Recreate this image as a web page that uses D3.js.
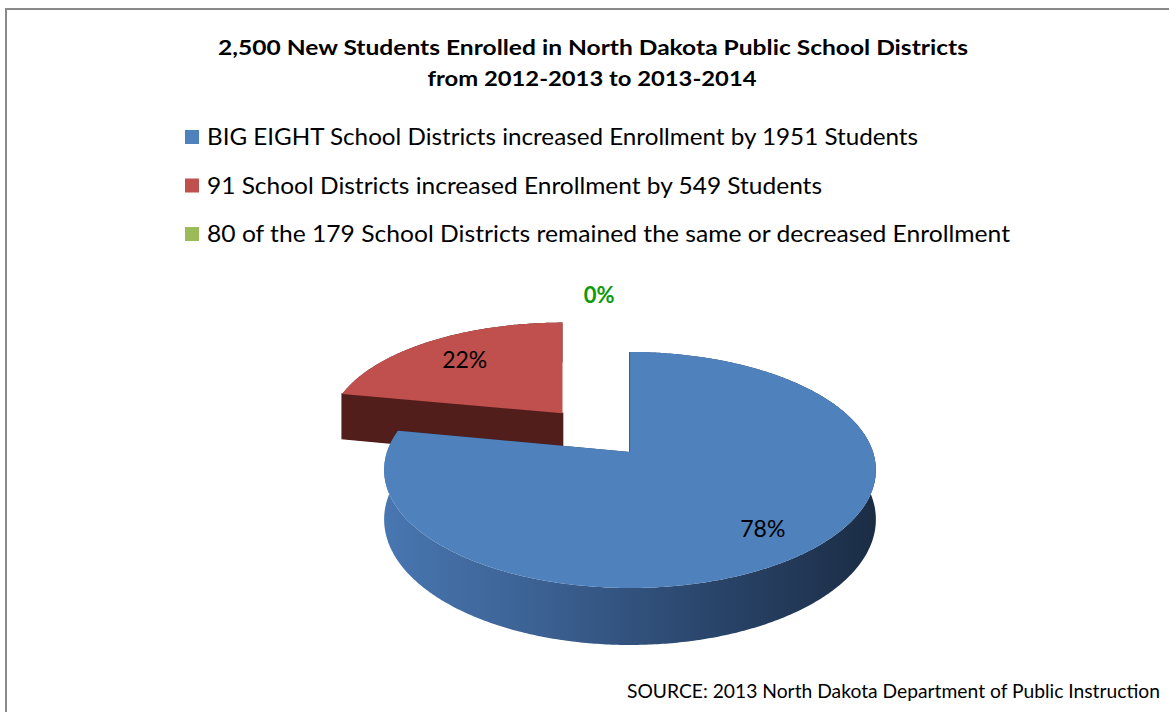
<!DOCTYPE html>
<html>
<head>
<meta charset="utf-8">
<script src="https://cdn.jsdelivr.net/npm/d3@7"></script>
<style>
  html, body { margin: 0; padding: 0; background: #ffffff; }
  svg { display: block; }
  text { font-family: Lato, "Open Sans", "Liberation Sans", sans-serif; fill: #000; }
</style>
</head>
<body>
<svg id="chart" width="1169" height="712"></svg>
<script>
// ---- chart data ----
const titleLines = [
  "2,500 New Students Enrolled in North Dakota Public School Districts",
  "from 2012-2013 to 2013-2014"
];
const categories = [
  "BIG EIGHT School Districts increased Enrollment by 1951 Students",
  "91 School Districts increased Enrollment by 549 Students",
  "80 of the 179 School Districts remained the same or decreased Enrollment"
];
const values = [1951, 549, 0];
const explodeBy = [0, 0.46, 0];
const sourceNote = "SOURCE: 2013 North Dakota Department of Public Instruction";

// ---- styling ----
const topColors  = ["#4f81bd", "#c0504d", "#9bbb59"];
const sideColors = ["url(#blueSide)", "#521e1c", "#5d7035"];
const cutColors  = ["#1f3450", "#521e1c", "#5d7035"];
const zeroLabelColor = "#0a9a0a";

const W = 1169, H = 712;
const svg = d3.select("#chart");

// frame (top and left rules)
svg.append("line").attr("x1", 5).attr("x2", W).attr("y1", 9).attr("y2", 9)
  .attr("stroke", "#8a8a8a").attr("stroke-width", 2);
svg.append("line").attr("x1", 6).attr("x2", 6).attr("y1", 8).attr("y2", H)
  .attr("stroke", "#8a8a8a").attr("stroke-width", 2);

// title
svg.append("text").attr("x", 593).attr("y", 55).attr("text-anchor", "middle")
  .attr("font-weight", "bold").attr("font-size", 20)
  .attr("textLength", 750).attr("lengthAdjust", "spacingAndGlyphs")
  .text(titleLines[0]);
svg.append("text").attr("x", 592).attr("y", 86).attr("text-anchor", "middle")
  .attr("font-weight", "bold").attr("font-size", 20)
  .attr("textLength", 329).attr("lengthAdjust", "spacingAndGlyphs")
  .text(titleLines[1]);

// legend
const legendWidths = [711, 615, 803];
const legendY = d3.scalePoint().domain(d3.range(categories.length)).range([145, 242]);
const legend = svg.append("g");
categories.forEach((c, i) => {
  legend.append("rect").attr("x", 185).attr("y", legendY(i) - 15)
    .attr("width", 14).attr("height", 14).attr("fill", topColors[i]);
  legend.append("text").attr("x", 207).attr("y", legendY(i))
    .attr("font-size", 23)
    .attr("textLength", legendWidths[i]).attr("lengthAdjust", "spacingAndGlyphs")
    .text(c);
});

// source note
svg.append("text").attr("x", 627).attr("y", 698).attr("font-size", 19)
  .attr("textLength", 533).attr("lengthAdjust", "spacingAndGlyphs")
  .text(sourceNote);

// ---- 3D pie ----
const geo = { cx: 630, cy: 452, b: 243, a: 115.25, u: 0.1525, h: 48.3 };

const defs = svg.append("defs");
const grad = defs.append("linearGradient").attr("id", "blueSide")
  .attr("gradientUnits", "userSpaceOnUse")
  .attr("x1", geo.cx - geo.b).attr("x2", geo.cx + geo.b).attr("y1", 0).attr("y2", 0);
[[0, "#4876b0"], [0.3, "#3c6294"], [0.6, "#2d4a72"], [1, "#1b2d45"]].forEach(([o, c]) =>
  grad.append("stop").attr("offset", o).attr("stop-color", c));

const total = d3.sum(values);
const pct = d3.format(".0%");
const arcs = d3.pie().sort(null).startAngle(0).endAngle(2 * Math.PI)(values);

arcs.forEach((d, i) => {
  const mid = (d.startAngle + d.endAngle) / 2;
  d.ex = explodeBy[i] * Math.sin(mid);
  d.ey = explodeBy[i] * Math.cos(mid);
  d.i = i;
});

// local (lx, ly) in unit-radius pie coords relative to the slice apex, z: 0 top, 1 bottom
function project(d, lx, ly, z) {
  const gy = d.ey + ly;
  const w = 1 + geo.u * gy;
  const ax = geo.cx + geo.b * d.ex / (1 + geo.u * d.ey);
  return [ax + geo.b * lx / w, geo.cy - geo.a * gy / w + geo.h * z / w];
}
function rim(d, a0, a1, z) {
  const n = Math.max(2, Math.ceil(Math.abs(a1 - a0) / 0.01));
  return d3.range(n + 1).map(k => {
    const t = a0 + (a1 - a0) * k / n;
    return project(d, Math.sin(t), Math.cos(t), z);
  });
}
const poly = d3.line().curve(d3.curveLinearClosed);

const pieG = svg.append("g");
const drawn = arcs.filter(d => d.value > 0).sort((p, q) => q.ey - p.ey);

drawn.forEach(d => {
  const g = pieG.append("g");
  const i = d.i;
  // outer wall
  const wall = rim(d, d.startAngle, d.endAngle, 0).concat(rim(d, d.endAngle, d.startAngle, 1));
  g.append("path").attr("d", poly(wall)).attr("fill", sideColors[i]);
  // radial cut faces (the leading face gets an outline so an edge-on face still reads)
  [d.startAngle, d.endAngle].forEach((a, k) => {
    const face = [
      project(d, 0, 0, 0),
      project(d, Math.sin(a), Math.cos(a), 0),
      project(d, Math.sin(a), Math.cos(a), 1),
      project(d, 0, 0, 1)
    ];
    g.append("path").attr("d", poly(face)).attr("fill", cutColors[i])
      .attr("stroke", k === 0 ? cutColors[i] : "none").attr("stroke-width", 1.6);
  });
  // top face
  const top = [project(d, 0, 0, 0)].concat(rim(d, d.startAngle, d.endAngle, 0));
  g.append("path").attr("d", poly(top)).attr("fill", topColors[i]);
});

// data labels
const labelR = [0.78, 0.72, 1.72];
arcs.forEach(d => {
  const mid = (d.startAngle + d.endAngle) / 2;
  const r = labelR[d.i];
  let x, y;
  if (d.value > 0) {
    [x, y] = project(d, r * Math.sin(mid), r * Math.cos(mid), 0);
  } else {
    // empty slice: label sits above the rim, between its neighbours' edges
    const n = arcs.length;
    const prev = arcs[(d.i - 1 + n) % n], next = arcs[(d.i + 1) % n];
    const edgeX = s => project(s, 0, 1, 0)[0];
    x = (edgeX(prev) + edgeX(next)) / 2 + 3;
    y = project(d, 0, r, 0)[1];
  }
  svg.append("text").attr("x", x).attr("y", y).attr("dy", "0.36em")
    .attr("text-anchor", "middle")
    .attr("font-size", d.value > 0 ? 23 : 22)
    .attr("font-weight", d.value > 0 ? "normal" : "bold")
    .style("fill", d.value > 0 ? "#000" : zeroLabelColor)
    .text(pct(d.value / total));
});
</script>
</body>
</html>
